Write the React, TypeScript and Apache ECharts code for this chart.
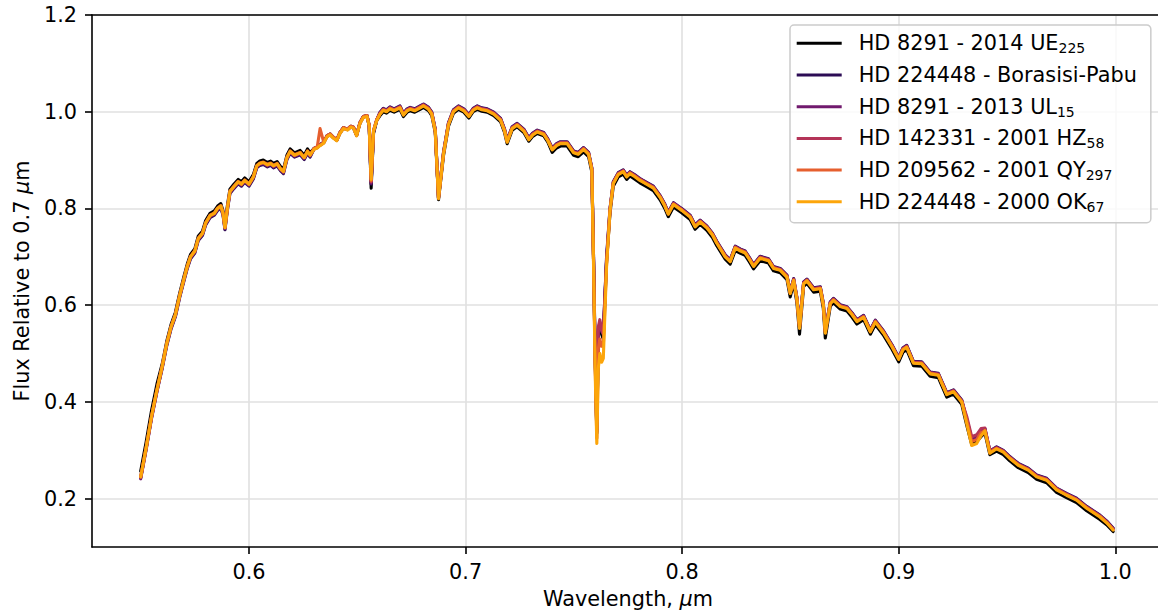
import React, { useEffect, useRef } from "react";
import * as echarts from "echarts";

const WAVELENGTH = [
  0.5500,0.5525,0.5550,0.5575,0.5600,0.5620,0.5640,0.5660,0.5680,0.5700,
  0.5715,0.5730,0.5750,0.5766,0.5785,0.5800,0.5820,0.5840,0.5855,0.5870,
  0.5880,0.5889,0.5900,0.5912,0.5930,0.5950,0.5965,0.5980,0.6000,0.6020,
  0.6036,0.6050,0.6066,0.6085,0.6100,0.6113,0.6130,0.6145,0.6159,0.6175,
  0.6190,0.6210,0.6236,0.6255,0.6270,0.6282,0.6300,0.6315,0.6328,0.6345,
  0.6360,0.6374,0.6390,0.6405,0.6420,0.6436,0.6455,0.6470,0.6482,0.6497,
  0.6512,0.6528,0.6545,0.6555,0.6564,0.6575,0.6590,0.6605,0.6620,0.6635,
  0.6651,0.6670,0.6697,0.6713,0.6730,0.6744,0.6765,0.6790,0.6806,0.6829,
  0.6844,0.6860,0.6875,0.6885,0.6898,0.6921,0.6944,0.6967,0.6992,0.7015,
  0.7035,0.7054,0.7075,0.7100,0.7130,0.7162,0.7180,0.7192,0.7215,0.7238,
  0.7269,0.7292,0.7310,0.7331,0.7361,0.7380,0.7400,0.7420,0.7438,0.7469,
  0.7499,0.7520,0.7545,0.7568,0.7583,0.7591,0.7598,0.7606,0.7613,0.7620,
  0.7628,0.7636,0.7651,0.7667,0.7682,0.7705,0.7728,0.7744,0.7759,0.7780,
  0.7805,0.7836,0.7867,0.7898,0.7920,0.7936,0.7960,0.7998,0.8037,0.8060,
  0.8083,0.8114,0.8140,0.8160,0.8199,0.8222,0.8245,0.8270,0.8291,0.8310,
  0.8330,0.8360,0.8399,0.8422,0.8453,0.8484,0.8499,0.8515,0.8530,0.8542,
  0.8561,0.8576,0.8607,0.8638,0.8652,0.8661,0.8684,0.8699,0.8730,0.8761,
  0.8785,0.8807,0.8838,0.8869,0.8892,0.8931,0.8969,0.9000,0.9020,0.9037,
  0.9068,0.9106,0.9145,0.9183,0.9222,0.9253,0.9291,0.9314,0.9337,0.9360,
  0.9380,0.9398,0.9421,0.9452,0.9483,0.9513,0.9552,0.9598,0.9637,0.9683,
  0.9729,0.9775,0.9821,0.9868,0.9929,0.9960,0.9990,
];

const FLUX_2014_UE225 = [
  0.257,0.317,0.382,0.437,0.480,0.525,0.560,0.585,0.625,0.660,
  0.685,0.705,0.717,0.743,0.753,0.775,0.790,0.795,0.805,0.810,
  0.795,0.765,0.805,0.840,0.850,0.860,0.855,0.863,0.855,0.870,
  0.893,0.898,0.900,0.895,0.898,0.893,0.897,0.887,0.881,0.910,
  0.923,0.915,0.920,0.910,0.923,0.915,0.924,0.927,0.932,0.937,
  0.950,0.954,0.947,0.942,0.957,0.967,0.964,0.970,0.968,0.952,
  0.977,0.990,0.992,0.970,0.842,0.955,0.982,0.992,1.000,0.997,
  1.003,0.999,1.005,0.990,0.999,1.002,0.999,1.005,1.009,1.002,
  0.992,0.957,0.818,0.857,0.909,0.970,0.997,1.005,0.999,0.987,
  1.000,1.005,1.001,0.999,0.992,0.979,0.957,0.934,0.962,0.969,
  0.957,0.939,0.949,0.955,0.950,0.937,0.916,0.925,0.929,0.929,
  0.910,0.907,0.917,0.907,0.875,0.690,0.500,0.335,0.540,0.555,
  0.540,0.530,0.690,0.791,0.846,0.865,0.871,0.860,0.867,0.861,
  0.853,0.845,0.837,0.818,0.800,0.783,0.803,0.791,0.777,0.757,
  0.767,0.755,0.740,0.723,0.695,0.685,0.713,0.707,0.703,0.690,
  0.675,0.692,0.687,0.671,0.667,0.653,0.617,0.646,0.605,0.540,
  0.639,0.645,0.627,0.629,0.593,0.532,0.598,0.605,0.592,0.588,
  0.575,0.561,0.570,0.540,0.560,0.537,0.509,0.483,0.503,0.508,
  0.475,0.474,0.453,0.450,0.410,0.416,0.395,0.352,0.312,0.318,
  0.328,0.336,0.291,0.298,0.291,0.278,0.264,0.254,0.240,0.233,
  0.213,0.202,0.192,0.175,0.157,0.146,0.132,
];

const FLUX_BORASISI_PABU = [
  0.243,0.303,0.368,0.423,0.471,0.516,0.551,0.576,0.616,0.651,
  0.676,0.696,0.708,0.734,0.744,0.766,0.781,0.786,0.796,0.801,
  0.786,0.756,0.796,0.831,0.841,0.851,0.846,0.854,0.846,0.861,
  0.884,0.889,0.891,0.886,0.889,0.884,0.888,0.878,0.872,0.901,
  0.914,0.906,0.911,0.901,0.914,0.906,0.923,0.926,0.931,0.936,
  0.949,0.953,0.946,0.941,0.956,0.966,0.963,0.969,0.967,0.951,
  0.976,0.989,0.991,0.971,0.850,0.958,0.983,0.999,1.007,1.004,
  1.010,1.006,1.012,0.997,1.006,1.009,1.006,1.012,1.016,1.009,
  0.999,0.964,0.822,0.864,0.916,0.977,1.004,1.012,1.006,0.994,
  1.007,1.012,1.008,1.006,0.999,0.986,0.964,0.941,0.969,0.976,
  0.964,0.946,0.956,0.962,0.957,0.944,0.925,0.934,0.938,0.938,
  0.919,0.916,0.926,0.916,0.884,0.700,0.510,0.340,0.545,0.560,
  0.545,0.540,0.700,0.800,0.855,0.874,0.880,0.869,0.876,0.870,
  0.862,0.854,0.846,0.827,0.809,0.792,0.812,0.800,0.786,0.766,
  0.776,0.764,0.749,0.732,0.704,0.694,0.722,0.716,0.712,0.699,
  0.684,0.701,0.696,0.680,0.676,0.662,0.628,0.655,0.616,0.558,
  0.648,0.654,0.636,0.638,0.604,0.548,0.607,0.614,0.601,0.597,
  0.584,0.570,0.579,0.549,0.569,0.546,0.518,0.492,0.512,0.517,
  0.484,0.483,0.462,0.459,0.419,0.425,0.404,0.362,0.322,0.326,
  0.338,0.344,0.298,0.307,0.300,0.287,0.273,0.263,0.249,0.242,
  0.222,0.211,0.201,0.184,0.166,0.154,0.139,
];

const FLUX_2013_UL15 = [
  0.241,0.301,0.366,0.421,0.473,0.518,0.553,0.578,0.618,0.653,
  0.678,0.698,0.710,0.736,0.746,0.768,0.783,0.788,0.798,0.803,
  0.788,0.758,0.798,0.833,0.843,0.853,0.848,0.856,0.848,0.863,
  0.886,0.891,0.893,0.888,0.891,0.886,0.890,0.880,0.874,0.903,
  0.916,0.908,0.913,0.903,0.916,0.908,0.923,0.926,0.931,0.936,
  0.949,0.953,0.946,0.941,0.956,0.966,0.963,0.969,0.967,0.951,
  0.976,0.989,0.991,0.971,0.852,0.958,0.983,0.998,1.006,1.003,
  1.009,1.005,1.011,0.996,1.005,1.008,1.005,1.011,1.015,1.008,
  0.998,0.963,0.822,0.863,0.915,0.976,1.003,1.011,1.005,0.993,
  1.006,1.011,1.007,1.005,0.998,0.985,0.963,0.940,0.968,0.975,
  0.963,0.945,0.955,0.961,0.956,0.943,0.924,0.933,0.937,0.937,
  0.918,0.915,0.925,0.915,0.883,0.695,0.505,0.345,0.550,0.565,
  0.550,0.545,0.695,0.799,0.854,0.873,0.879,0.868,0.875,0.869,
  0.861,0.853,0.845,0.826,0.808,0.791,0.811,0.799,0.785,0.765,
  0.775,0.763,0.748,0.731,0.703,0.693,0.721,0.715,0.711,0.698,
  0.683,0.700,0.695,0.679,0.675,0.661,0.627,0.654,0.615,0.556,
  0.647,0.653,0.635,0.637,0.603,0.546,0.606,0.613,0.600,0.596,
  0.583,0.569,0.578,0.548,0.568,0.545,0.517,0.491,0.511,0.516,
  0.483,0.482,0.461,0.458,0.418,0.424,0.403,0.365,0.324,0.328,
  0.340,0.345,0.299,0.306,0.299,0.286,0.272,0.262,0.248,0.241,
  0.221,0.210,0.200,0.183,0.165,0.153,0.138,
];

const FLUX_2001_HZ58 = [
  0.244,0.304,0.369,0.424,0.475,0.520,0.555,0.580,0.620,0.655,
  0.680,0.700,0.712,0.738,0.748,0.770,0.785,0.790,0.800,0.805,
  0.790,0.760,0.800,0.835,0.845,0.855,0.850,0.858,0.850,0.865,
  0.888,0.893,0.895,0.890,0.893,0.888,0.892,0.882,0.876,0.905,
  0.918,0.910,0.915,0.905,0.918,0.910,0.924,0.927,0.932,0.937,
  0.950,0.954,0.947,0.942,0.957,0.967,0.964,0.970,0.968,0.952,
  0.977,0.990,0.992,0.972,0.855,0.962,0.984,0.997,1.005,1.002,
  1.008,1.004,1.010,0.995,1.004,1.007,1.004,1.010,1.014,1.007,
  0.997,0.962,0.822,0.862,0.914,0.975,1.002,1.010,1.004,0.992,
  1.005,1.010,1.006,1.004,0.997,0.984,0.962,0.939,0.967,0.974,
  0.962,0.944,0.954,0.960,0.955,0.942,0.923,0.932,0.936,0.936,
  0.917,0.914,0.924,0.914,0.882,0.690,0.495,0.338,0.555,0.570,
  0.548,0.540,0.690,0.798,0.853,0.872,0.878,0.867,0.874,0.868,
  0.860,0.852,0.844,0.825,0.807,0.790,0.810,0.798,0.784,0.764,
  0.774,0.762,0.747,0.730,0.702,0.692,0.720,0.714,0.710,0.697,
  0.682,0.699,0.694,0.678,0.674,0.660,0.626,0.653,0.614,0.555,
  0.646,0.652,0.634,0.636,0.602,0.545,0.605,0.612,0.599,0.595,
  0.582,0.568,0.577,0.547,0.567,0.544,0.516,0.490,0.510,0.515,
  0.482,0.481,0.460,0.457,0.417,0.423,0.402,0.370,0.328,0.332,
  0.345,0.346,0.298,0.305,0.298,0.285,0.271,0.261,0.247,0.240,
  0.220,0.209,0.199,0.182,0.164,0.152,0.137,
];

const FLUX_2001_QY297 = [
  0.246,0.306,0.371,0.426,0.476,0.521,0.556,0.581,0.621,0.656,
  0.681,0.701,0.713,0.739,0.749,0.771,0.786,0.791,0.801,0.806,
  0.791,0.761,0.801,0.836,0.846,0.856,0.851,0.859,0.851,0.866,
  0.889,0.894,0.896,0.891,0.894,0.889,0.893,0.883,0.877,0.906,
  0.919,0.911,0.916,0.906,0.919,0.911,0.924,0.927,0.965,0.937,
  0.950,0.954,0.947,0.942,0.957,0.967,0.964,0.970,0.968,0.952,
  0.977,0.990,0.992,0.972,0.857,0.961,0.984,0.996,1.004,1.001,
  1.007,1.003,1.009,0.994,1.003,1.006,1.003,1.009,1.013,1.006,
  0.996,0.961,0.821,0.861,0.913,0.974,1.001,1.009,1.003,0.991,
  1.004,1.009,1.005,1.003,0.996,0.983,0.961,0.938,0.966,0.973,
  0.961,0.943,0.953,0.959,0.954,0.941,0.922,0.931,0.935,0.935,
  0.916,0.913,0.923,0.913,0.881,0.685,0.485,0.325,0.510,0.530,
  0.515,0.515,0.685,0.797,0.852,0.871,0.877,0.866,0.873,0.867,
  0.859,0.851,0.843,0.824,0.806,0.789,0.809,0.797,0.783,0.763,
  0.773,0.761,0.746,0.729,0.701,0.691,0.719,0.713,0.709,0.696,
  0.681,0.698,0.693,0.677,0.673,0.659,0.625,0.652,0.613,0.553,
  0.645,0.651,0.633,0.635,0.601,0.543,0.604,0.611,0.598,0.594,
  0.581,0.567,0.576,0.546,0.566,0.543,0.515,0.489,0.509,0.514,
  0.481,0.480,0.459,0.456,0.416,0.422,0.401,0.362,0.318,0.322,
  0.336,0.341,0.295,0.304,0.297,0.284,0.270,0.260,0.246,0.239,
  0.219,0.208,0.198,0.181,0.163,0.151,0.136,
];

const FLUX_2000_OK67 = [
  0.245,0.305,0.370,0.425,0.475,0.520,0.555,0.580,0.620,0.655,
  0.680,0.700,0.712,0.738,0.748,0.770,0.785,0.790,0.800,0.805,
  0.790,0.760,0.800,0.835,0.845,0.855,0.850,0.858,0.850,0.865,
  0.888,0.893,0.895,0.890,0.893,0.888,0.892,0.882,0.876,0.905,
  0.918,0.910,0.915,0.905,0.918,0.910,0.922,0.925,0.930,0.935,
  0.948,0.952,0.945,0.940,0.955,0.965,0.962,0.968,0.966,0.950,
  0.975,0.988,0.990,0.970,0.860,0.960,0.982,0.995,1.003,1.000,
  1.006,1.002,1.008,0.993,1.002,1.005,1.002,1.008,1.012,1.005,
  0.995,0.960,0.820,0.860,0.912,0.973,1.000,1.008,1.002,0.990,
  1.003,1.008,1.004,1.002,0.995,0.982,0.960,0.937,0.965,0.972,
  0.960,0.942,0.952,0.958,0.953,0.940,0.921,0.930,0.934,0.934,
  0.915,0.912,0.922,0.912,0.880,0.680,0.470,0.314,0.470,0.500,
  0.482,0.490,0.680,0.796,0.851,0.870,0.876,0.865,0.872,0.866,
  0.858,0.850,0.842,0.823,0.805,0.788,0.808,0.796,0.782,0.762,
  0.772,0.760,0.745,0.728,0.700,0.690,0.718,0.712,0.708,0.695,
  0.680,0.697,0.692,0.676,0.672,0.658,0.624,0.651,0.612,0.552,
  0.644,0.650,0.632,0.634,0.600,0.542,0.603,0.610,0.597,0.593,
  0.580,0.566,0.575,0.545,0.565,0.542,0.514,0.488,0.508,0.513,
  0.480,0.479,0.458,0.455,0.415,0.421,0.400,0.355,0.310,0.314,
  0.330,0.340,0.294,0.303,0.296,0.283,0.269,0.259,0.245,0.238,
  0.218,0.207,0.197,0.180,0.162,0.150,0.135,
];

const SERIES_MAIN = [
  "HD 8291 - 2014 UE",
  "HD 224448 - Borasisi-Pabu",
  "HD 8291 - 2013 UL",
  "HD 142331 - 2001 HZ",
  "HD 209562 - 2001 QY",
  "HD 224448 - 2000 OK",
];
const SERIES_SUB = ["225", "", "15", "58", "297", "67"];
const SERIES_COLORS = ["#000000", "#2c0c55", "#711a6e", "#b43458", "#e65f2e", "#fca50a"];
const SERIES_VALUES = [
  FLUX_2014_UE225,
  FLUX_BORASISI_PABU,
  FLUX_2013_UL15,
  FLUX_2001_HZ58,
  FLUX_2001_QY297,
  FLUX_2000_OK67,
];

const X_TICKS = [0.6, 0.7, 0.8, 0.9, 1.0];
const Y_TICKS = [0.2, 0.4, 0.6, 0.8, 1.0, 1.2];

const FONT = "'DejaVu Sans', sans-serif";

export default function App() {
  const ref = useRef<HTMLDivElement | null>(null);

  useEffect(() => {
    if (!ref.current) return;
    const chart = echarts.init(ref.current, undefined, { renderer: "svg" });
    const names = SERIES_MAIN.map((m, i) => m + SERIES_SUB[i]);

    const axisLineStyle = { color: "#000000", width: 1.6 };
    const gridLineStyle = { color: "#e0e0e0", width: 1.6 };

    const option: any = {
      animation: false,
      backgroundColor: "#ffffff",
      grid: {
        left: 92,
        right: 6,
        top: 15,
        bottom: 68,
        containLabel: false,
        outerBoundsMode: "none",
      },
      legend: {
        show: true,
        orient: "vertical",
        left: 790,
        top: 25,
        data: names,
        icon: "rect",
        itemWidth: 45,
        itemHeight: 3,
        itemGap: 7.7,
        padding: [6.3, 14, 8.9, 6.7],
        backgroundColor: "rgba(255,255,255,0.8)",
        borderColor: "#cccccc",
        borderWidth: 1.5,
        borderRadius: 4,
        selectedMode: false,
        itemStyle: { borderWidth: 0 },
        formatter: (name: string) => {
          const i = names.indexOf(name);
          const sub = SERIES_SUB[i];
          return sub ? `${SERIES_MAIN[i]}{sub|${sub}}` : SERIES_MAIN[i];
        },
        textStyle: {
          fontFamily: FONT,
          fontSize: 20.8,
          color: "#000000",
          lineHeight: 24,
          padding: [0, 0, 0, 12],
          rich: {
            sub: {
              fontFamily: FONT,
              fontSize: 14,
              lineHeight: 12,
              verticalAlign: "bottom",
              color: "#000000",
            },
          },
        },
      },
      xAxis: [
        {
          type: "value",
          position: "bottom",
          min: 0.5275,
          max: 1.0225,
          name: "Wavelength, {i|μ}m",
          nameLocation: "middle",
          nameGap: 41,
          nameTextStyle: {
            fontFamily: FONT,
            fontSize: 20.8,
            color: "#000000",
            rich: {
              i: { fontFamily: FONT, fontSize: 20.8, fontStyle: "italic", color: "#000000" },
            },
          },
          axisLine: { show: true, onZero: false, lineStyle: axisLineStyle },
          axisTick: {
            show: true,
            length: 7,
            customValues: X_TICKS,
            lineStyle: axisLineStyle,
          },
          axisLabel: {
            show: true,
            customValues: X_TICKS,
            margin: 14,
            fontFamily: FONT,
            fontSize: 20.8,
            color: "#000000",
            formatter: (v: number) => v.toFixed(1),
          },
          splitLine: { show: true, lineStyle: gridLineStyle },
        },
        {
          type: "value",
          position: "top",
          min: 0.5275,
          max: 1.0225,
          axisLine: { show: true, onZero: false, lineStyle: axisLineStyle },
          axisTick: { show: false },
          axisLabel: { show: false },
          splitLine: { show: false },
        },
      ],
      yAxis: {
        type: "value",
        min: 0.1,
        max: 1.2,
        name: "Flux Relative to 0.7 {i|μ}m",
        nameLocation: "middle",
        nameGap: 60,
        nameRotate: 90,
        nameTextStyle: {
          fontFamily: FONT,
          fontSize: 20.8,
          color: "#000000",
          rich: {
            i: { fontFamily: FONT, fontSize: 20.8, fontStyle: "italic", color: "#000000" },
          },
        },
        axisLine: { show: true, onZero: false, lineStyle: axisLineStyle },
        axisTick: {
          show: true,
          length: 7,
          customValues: Y_TICKS,
          lineStyle: axisLineStyle,
        },
        axisLabel: {
          show: true,
          customValues: Y_TICKS,
          margin: 15,
          fontFamily: FONT,
          fontSize: 20.8,
          color: "#000000",
          formatter: (v: number) => v.toFixed(1),
        },
        splitLine: { show: true, lineStyle: gridLineStyle },
      },
      series: SERIES_VALUES.map((vals, i) => ({
        name: names[i],
        type: "line",
        xAxisIndex: 0,
        yAxisIndex: 0,
        data: WAVELENGTH.map((w, j) => [w, vals[j]]),
        showSymbol: false,
        symbol: "none",
        smooth: false,
        silent: true,
        clip: true,
        color: SERIES_COLORS[i],
        itemStyle: { color: SERIES_COLORS[i] },
        lineStyle: { color: SERIES_COLORS[i], width: 3.1, join: "round", cap: "round" },
        emphasis: { disabled: true },
        z: 2,
      })),
    };

    chart.setOption(option);
    return () => {
      chart.dispose();
    };
  }, []);

  return (
    <div
      style={{
        position: "fixed",
        left: 0,
        top: 0,
        width: 1158,
        height: 615,
        overflow: "hidden",
        background: "#ffffff",
      }}
    >
      <div ref={ref} style={{ width: 1170, height: 615 }} />
    </div>
  );
}
